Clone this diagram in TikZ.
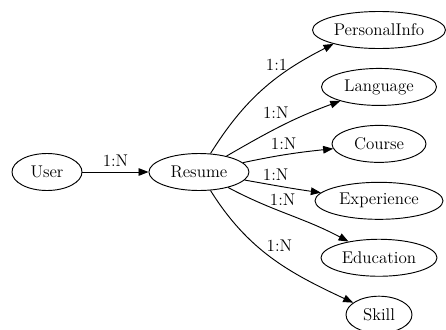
\documentclass[tikz,border=0pt]{standalone}
\usepackage{tikz}
\usetikzlibrary{shapes.geometric}
\usetikzlibrary{arrows.meta}
\usetikzlibrary{positioning}
\tikzset{node distance=0.57cm, every text node part/.style={align=center, font={\fontsize{14.5}{17}\selectfont}}}
\tikzstyle{entity} = [ellipse, draw=black, line width=0.8pt, minimum height=1.11cm, inner sep=0pt]
\tikzstyle{rel} = [draw, line width=0.8pt, -{Triangle[length=8.5pt,width=6.5pt]}]
\tikzstyle{card} = [inner sep=1pt]

\begin{document}
\begin{tikzpicture}[x=0.03cm, y=0.03cm]
      \useasboundingbox (0,0) rectangle (446,-329);
      \node[entity, minimum width=2.1cm]   (user)    at (47,-172)      {User};
      \node[entity, minimum width=3cm]     (resume)  [right=1.98cm of user] {Resume};
      \node[entity, minimum width=3.99cm]  (pinfo)   at (379,-30)      {PersonalInfo};
      \node[entity, minimum width=3.45cm]  (lang)    [below=of pinfo]  {Language};
      \node[entity, minimum width=2.82cm]  (course)  [below=of lang]   {Course};
      \node[entity, minimum width=3.84cm]  (exp)     [below=of course] {Experience};
      \node[entity, minimum width=3.48cm]  (edu)     [below=of exp]    {Education};
      \node[entity, minimum width=1.98cm]  (skill)   [below=of edu]    {Skill};
      \draw[rel] (user)   --                      node[card, above=3pt]            {1:N} (resume);
      \draw[rel] (resume) to[out=58,  in=207]     node[card, pos=0.68, above left=0pt, xshift=3pt] {1:1} (pinfo.197);
      \draw[rel] (resume) to[out=30,  in=200]     node[card, pos=0.44, above=7pt]  {1:N} (lang);
      \draw[rel] (resume) to[out=12,  in=186]     node[card, pos=0.45, above=3pt]  {1:N} (course);
      \draw[rel] (resume) to[out=-10, in=172]     node[card, pos=0.4, above=2.5pt] {1:N} (exp);
      \draw[rel] (resume) to[out=-28, in=152]     node[card, pos=0.45, above=4pt] {1:N} (edu);
      \draw[rel] (resume) to[out=-58, in=155]     node[card, pos=0.45, above right] {1:N} (skill);
\end{tikzpicture}
\end{document}
